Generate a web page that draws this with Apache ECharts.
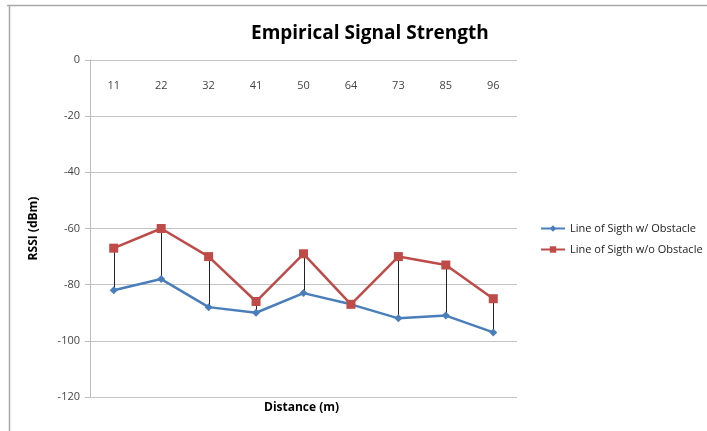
<!DOCTYPE html>
<html><head><meta charset="utf-8">
<script src="https://cdn.jsdelivr.net/npm/echarts@6/dist/echarts.min.js"></script>
<style>html,body{margin:0;padding:0;background:#fff}#c{width:707px;height:431px}</style>
</head><body><div id="c"></div>
<script>
const distances = ['11','22','32','41','50','64','73','85','96'];
const withObstacle = [-82,-78,-88,-90,-83,-87,-92,-91,-97];
const withoutObstacle = [-67,-60,-70,-86,-69,-87,-70,-73,-85];
const yTicks = {min:-120, max:0, interval:20};

const hiLo = distances.map((d,i)=>[i, withObstacle[i], withoutObstacle[i]]);
const chart = echarts.init(document.getElementById('c'), null, {renderer:'canvas'});
const font = '"Open Sans", "Noto Sans", sans-serif';
chart.setOption({
  backgroundColor:'#fff',
  animation:false,
  title:{text:'Empirical Signal Strength', left:246, top:19,
    textStyle:{fontFamily:font, fontSize:19, fontWeight:'bold', color:'#000'}},
  grid:{left:90, right:190, top:60, bottom:34},
  legend:{orient:'vertical', left:535, top:218, itemGap:10, itemWidth:24, itemHeight:8,
    textStyle:{fontFamily:font, fontSize:11, color:'#222'},
    data:['Line of Sigth w/ Obstacle','Line of Sigth w/o Obstacle']},
  xAxis:{type:'category', data:distances, position:'top', boundaryGap:true,
    axisLine:{show:false}, axisTick:{show:false},
    axisLabel:{inside:true, margin:20, fontFamily:font, fontSize:11, color:'#444'},
    splitLine:{show:false}},
  yAxis:{type:'value', min:yTicks.min, max:yTicks.max, interval:yTicks.interval,
    name:'RSSI (dBm)', nameLocation:'middle', nameGap:50, nameRotate:90,
    nameTextStyle:{fontFamily:font, fontSize:12, fontWeight:'bold', color:'#000'},
    axisLine:{show:true, lineStyle:{color:'#bdbdbd', width:1}},
    axisTick:{show:true, length:5, lineStyle:{color:'#bdbdbd'}},
    axisLabel:{fontFamily:font, fontSize:11, color:'#444', margin:10},
    splitLine:{show:true, lineStyle:{color:'#c4c4c4', width:1}}},
  graphic:[
    {type:'line', shape:{x1:7,y1:5.5,x2:707,y2:5.5}, style:{stroke:'#a8a8a8', lineWidth:1.5}},
    {type:'line', shape:{x1:9.5,y1:5,x2:9.5,y2:431}, style:{stroke:'#a8a8a8', lineWidth:1.5}},
    {type:'text', left:264, top:402, style:{text:'Distance (m)', fontFamily:font, fontSize:12, fontWeight:'bold', fill:'#000'}}
  ],
  series:[
    {type:'custom', name:'hilo', data:hiLo, z:1, silent:true,
      renderItem:function(params, api){
        const p1 = api.coord([api.value(0), api.value(1)]);
        const p2 = api.coord([api.value(0), api.value(2)]);
        return {type:'line', shape:{x1:Math.round(p1[0])+0.5, y1:p1[1], x2:Math.round(p2[0])+0.5, y2:p2[1]},
          style:{stroke:'#222', lineWidth:1}};
      }},
    {type:'line', name:'Line of Sigth w/ Obstacle', data:withObstacle, z:3,
      symbol:'diamond', symbolSize:8,
      lineStyle:{color:'#4a7ebb', width:2.5}, itemStyle:{color:'#4a7ebb'}},
    {type:'line', name:'Line of Sigth w/o Obstacle', data:withoutObstacle, z:4,
      symbol:'rect', symbolSize:9,
      lineStyle:{color:'#be4b48', width:2.5}, itemStyle:{color:'#be4b48'}}
  ]
});
</script></body></html>
